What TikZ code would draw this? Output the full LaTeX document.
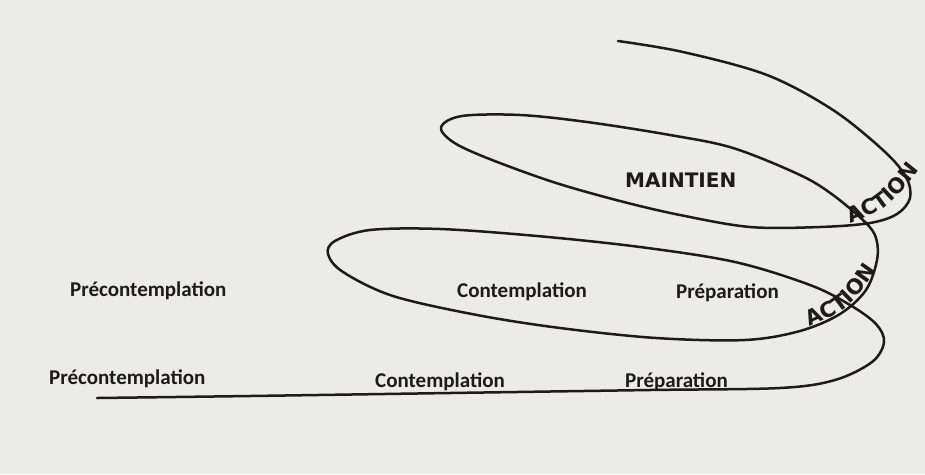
\documentclass[tikz,border=0pt]{standalone}
\usepackage{fontspec}
\setmainfont{Carlito}
\newfontfamily\actfont{DejaVu Sans}
\usetikzlibrary{decorations.text}
\definecolor{paper}{RGB}{235,235,233}
\definecolor{ink}{RGB}{30,26,26}
\tikzset{
  lbl/.style={anchor=base west, inner sep=0pt, text=ink, font=\bfseries\fontsize{21}{24}\selectfont},
  big/.style={anchor=base west, inner sep=0pt, text=ink, font=\actfont\bfseries\fontsize{20}{24}\selectfont},
  spiral/.style={draw=ink, line width=2.5pt, line cap=round, line join=round}
}
\begin{document}
\begin{tikzpicture}[x=1pt,y=-1pt]
\fill[paper] (0,0) rectangle (925,474);
\useasboundingbox (0,0) rectangle (925,474);
% spiral curve
\draw[spiral] plot[smooth, tension=0.55] coordinates {
 (97,398) (250,396) (450,393) (650,390) (780,388) (835,380) (872,362) (884,342)
 (876,324) (850,305) (810,285) (735,262) (640,247) (537,236) (440,229) (370,230)
 (335,241) (328,254) (343,272) (393,296) (477,315) (560,328) (656,338) (745,340)
 (800,331) (840,314) (866,290) (877,260) (876,238) (865,222) (833,195) (800,175)
 (733,148) (670,135) (587,122) (520,115) (462,116) (441,127) (453,142) (487,158)
 (553,182) (620,201) (680,215) (750,227) (820,227) (870,223) (897,214) (910,198)
 (906,177) (884,151) (833,110) (767,75) (683,52) (618,41)};
% labels
\node[lbl] (pc1) at (70,296) {Précontemplation};
\node[lbl] (pc2) at (49,384) {Précontemplation};
\node[lbl] (c1) at (457,297) {Contemplation};
\node[lbl] (c2) at (375,387) {Contemplation};
\node[lbl] (p1) at (676,298) {Préparation};
\node[lbl] (p2) at (625,387) {Préparation};
\node[big] (m) at (625,187) {MAINTIEN};
% ACTION labels along curves
\coordinate (a1s) at (834,230);
\coordinate (a1c) at (888,210);
\coordinate (a1e) at (930,156);
\coordinate (a2s) at (790,335);
\coordinate (a2c) at (850,310);
\coordinate (a2e) at (888,253);
\path[decorate, decoration={text along path, text align=center,
  text={|\actfont\bfseries\fontsize{21}{24}\selectfont\color{ink}|ACTION}}]
  (a1s) .. controls (a1c) .. (a1e);
\path[decorate, decoration={text along path, text align=center,
  text={|\actfont\bfseries\fontsize{21}{24}\selectfont\color{ink}|ACTION}}]
  (a2s) .. controls (a2c) .. (a2e);
\end{tikzpicture}
\end{document}
